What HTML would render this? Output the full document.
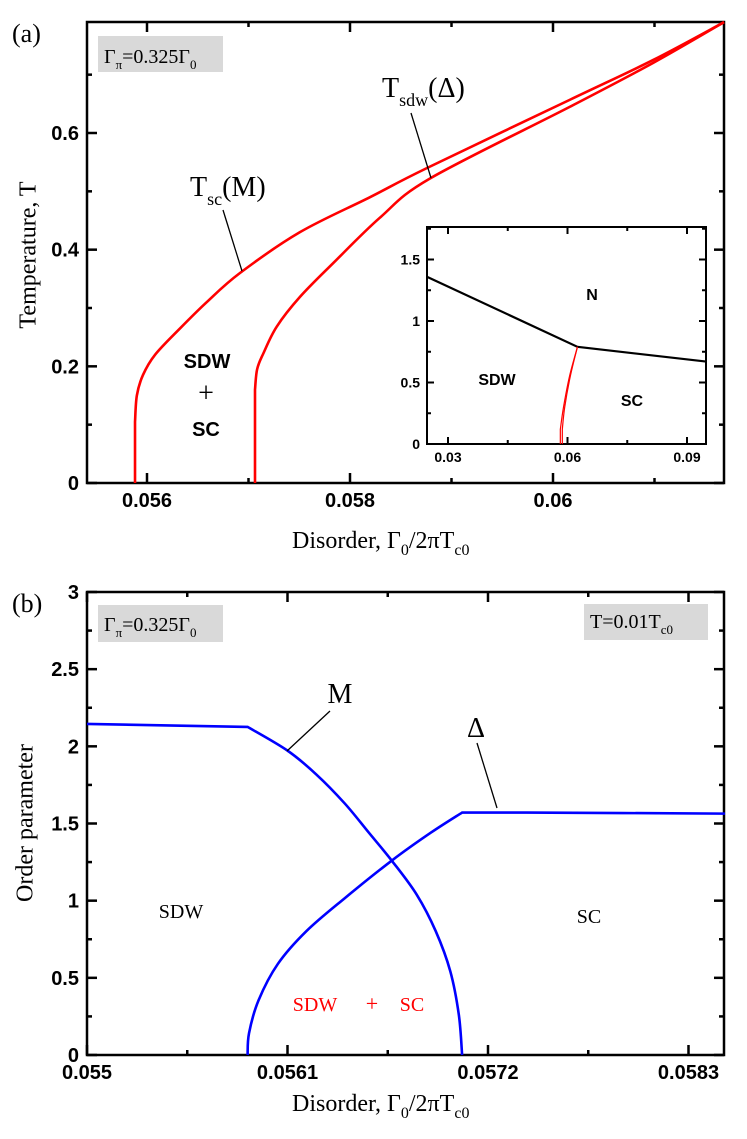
<!DOCTYPE html>
<html><head><meta charset="utf-8">
<style>
html,body{margin:0;padding:0;background:#fff;}
svg{display:block;}
.tk{font-family:"Liberation Sans",sans-serif;font-weight:bold;font-size:20px;}
.itk{font-family:"Liberation Sans",sans-serif;font-weight:bold;font-size:14px;}
.ser{font-family:"Liberation Serif",serif;}
</style></head>
<body>
<svg id="fig" width="747" height="1139" viewBox="0 0 747 1139" xmlns="http://www.w3.org/2000/svg">
<g id="pa"></g>
<g id="ins"></g>
<g id="pb"></g>
</svg>
<script>
// ---------- Panel (a) data ----------
const tscX = [0.055882,0.055882,0.055900,0.055960,0.056080,0.056325,0.056588,0.056916,0.057507,0.058197,0.058759,0.060167,0.060985,0.061685];
const tscT = [0,0.105,0.150,0.185,0.220,0.265,0.310,0.360,0.430,0.490,0.540,0.657,0.725,0.790];
const tsdwX = [0.057064,0.057064,0.057085,0.057146,0.057278,0.057507,0.057835,0.058296,0.058788,0.060167,0.060985,0.061685];
const tsdwT = [0,0.160,0.195,0.222,0.268,0.319,0.377,0.455,0.522,0.645,0.720,0.790];
const aXTicks = [0.056,0.058,0.06];
const aXTickLabels = ["0.056","0.058","0.06"];
const aYTicks = [0,0.2,0.4,0.6];
const aYTickLabels = ["0","0.2","0.4","0.6"];
// ---------- Inset data ----------
const insNX = [0.0247,0.0625,0.0948];
const insNY = [1.36,0.79,0.67];
const insR1X = [0.0625,0.0605,0.0590,0.0582,0.0582];
const insR1Y = [0.79,0.55,0.30,0.12,0];
const insR2X = [0.0625,0.0607,0.0593,0.0587,0.0587];
const insR2Y = [0.79,0.55,0.30,0.12,0];
const insXTicks = [0.03,0.06,0.09];
const insXTickLabels = ["0.03","0.06","0.09"];
const insYTicks = [0,0.5,1,1.5];
const insYTickLabels = ["0","0.5","1","1.5"];
// ---------- Panel (b) data ----------
const mX = [0.055,0.055881,0.056099,0.056257,0.056414,0.056546,0.056677,0.056809,0.056913,0.056993,0.05704,0.057058];
const mY = [2.145,2.126,1.973,1.819,1.630,1.441,1.252,1.039,0.803,0.543,0.26,0];
const dX = [0.055881,0.055889,0.055941,0.056047,0.056204,0.056414,0.056677,0.056887,0.057058,0.057413,0.0585];
const dY = [0,0.142,0.354,0.59,0.803,1.016,1.264,1.441,1.571,1.571,1.564];
const bXTicks = [0.055,0.0561,0.0572,0.0583];
const bXTickLabels = ["0.055","0.0561","0.0572","0.0583"];
const bYTicks = [0,0.5,1,1.5,2,2.5,3];
const bYTickLabels = ["0","0.5","1","1.5","2","2.5","3"];

const NS="http://www.w3.org/2000/svg";
function mk(parent,tag,attrs,text){const e=document.createElementNS(NS,tag);for(const k in attrs)e.setAttribute(k,attrs[k]);if(text!==undefined)e.textContent=text;parent.appendChild(e);return e;}
function lin(d0,d1,r0,r1){return v=>r0+(v-d0)/(d1-d0)*(r1-r0);}
function pathOf(xs,ys,sx,sy){return xs.map((x,i)=>(i?'L':'M')+sx(x).toFixed(2)+','+sy(ys[i]).toFixed(2)).join(' ');}
function smoothOf(xs,ys,sx,sy,sharp){
  sharp=sharp||[];
  const p=xs.map((x,i)=>[sx(x),sy(ys[i])]);
  let d='M'+p[0][0].toFixed(2)+','+p[0][1].toFixed(2);
  for(let i=0;i<p.length-1;i++){
    const p0=(i===0||sharp.includes(i))?p[i]:p[i-1];
    const p3=(i+2>=p.length||sharp.includes(i+1))?p[i+1]:p[i+2];
    const p1=p[i],p2=p[i+1];
    const c1=[p1[0]+(p2[0]-p0[0])/6,p1[1]+(p2[1]-p0[1])/6];
    const c2=[p2[0]-(p3[0]-p1[0])/6,p2[1]-(p3[1]-p1[1])/6];
    d+=' C'+c1[0].toFixed(2)+','+c1[1].toFixed(2)+' '+c2[0].toFixed(2)+','+c2[1].toFixed(2)+' '+p2[0].toFixed(2)+','+p2[1].toFixed(2);
  }
  return d;
}

function frame(g,L,T,R,B,xt,yt,xminor,yminor,sx,sy,maj,mnr,w){
  const f=mk(g,'rect',{x:L,y:T,width:R-L,height:B-T,fill:'none',stroke:'#000','stroke-width':w});
  
  
  xt.forEach(v=>{const x=sx(v);mk(g,'line',{x1:x,y1:B,x2:x,y2:B-maj,stroke:'#000','stroke-width':w});mk(g,'line',{x1:x,y1:T,x2:x,y2:T+maj,stroke:'#000','stroke-width':w});});
  xminor.forEach(v=>{const x=sx(v);mk(g,'line',{x1:x,y1:B,x2:x,y2:B-mnr,stroke:'#000','stroke-width':w});mk(g,'line',{x1:x,y1:T,x2:x,y2:T+mnr,stroke:'#000','stroke-width':w});});
  yt.forEach(v=>{const y=sy(v);mk(g,'line',{x1:L,y1:y,x2:L+maj,y2:y,stroke:'#000','stroke-width':w});mk(g,'line',{x1:R,y1:y,x2:R-maj,y2:y,stroke:'#000','stroke-width':w});});
  yminor.forEach(v=>{const y=sy(v);mk(g,'line',{x1:L,y1:y,x2:L+mnr,y2:y,stroke:'#000','stroke-width':w});mk(g,'line',{x1:R,y1:y,x2:R-mnr,y2:y,stroke:'#000','stroke-width':w});});
}

// ===== Panel A =====
(function(){
  const g=document.getElementById('pa');
  const L=87,R=724,T=22,B=483;
  const sx=lin(0.056,0.058,147,350), sy=lin(0,0.6,483,133);
  frame(g,L,T,R,B,aXTicks,aYTicks,[0.057,0.059,0.061],[0.1,0.3,0.5,0.7],sx,sy,10,5,2.5);
  aXTicks.forEach((v,i)=>{const t=mk(g,'text',{x:sx(v),y:507,'text-anchor':'middle',class:'tk'},aXTickLabels[i]);
    
    });
  aYTicks.forEach((v,i)=>{const t=mk(g,'text',{x:79,y:sy(v)+7,'text-anchor':'end',class:'tk'},aYTickLabels[i]);
    
    });
  const p1=mk(g,'path',{d:smoothOf(tscX,tscT,sx,sy,[1]),fill:'none',stroke:'#f00','stroke-width':2.6});
  
  
  const p2=mk(g,'path',{d:smoothOf(tsdwX,tsdwT,sx,sy,[1]),fill:'none',stroke:'#f00','stroke-width':2.6});
  
  
})();

// ===== Inset =====
(function(){
  const g=document.getElementById('ins');
  const L=427,R=706,T=227,B=444;
  const sx=lin(0.03,0.09,448,687), sy=lin(0,1,444,321);
  mk(g,'rect',{x:L,y:T,width:R-L,height:B-T,fill:'#fff'});
  frame(g,L,T,R,B,insXTicks,insYTicks,[0.045,0.075],[0.25,0.75,1.25,1.75],sx,sy,7,4,2);
  insXTicks.forEach((v,i)=>{const t=mk(g,'text',{x:sx(v),y:462,'text-anchor':'middle',class:'itk'},insXTickLabels[i]);
    
    });
  insYTicks.forEach((v,i)=>{const t=mk(g,'text',{x:420,y:sy(v)+5,'text-anchor':'end',class:'itk'},insYTickLabels[i]);
    
    });
  const n=mk(g,'path',{d:pathOf(insNX,insNY,sx,sy),fill:'none',stroke:'#000','stroke-width':2.2});
  
  
  const r1=mk(g,'path',{d:smoothOf(insR1X,insR1Y,sx,sy,[3]),fill:'none',stroke:'#f00','stroke-width':1.2});
  
  
  const r2=mk(g,'path',{d:smoothOf(insR2X,insR2Y,sx,sy,[3]),fill:'none',stroke:'#f00','stroke-width':1.2});
  
  
})();

// ===== Panel B =====
(function(){
  const g=document.getElementById('pb');
  const L=87,R=724,T=592,B=1055;
  const sx=lin(0.055,0.0561,87,287.5), sy=lin(0,3,1055,592);
  frame(g,L,T,R,B,bXTicks,bYTicks,[0.05555,0.05665,0.05775],[0.25,0.75,1.25,1.75,2.25,2.75],sx,sy,10,5,2.5);
  bXTicks.forEach((v,i)=>{const t=mk(g,'text',{x:sx(v),y:1079,'text-anchor':'middle',class:'tk'},bXTickLabels[i]);
    
    });
  bYTicks.forEach((v,i)=>{const t=mk(g,'text',{x:79,y:sy(v)+7,'text-anchor':'end',class:'tk'},bYTickLabels[i]);
    
    });
  const pm=mk(g,'path',{d:smoothOf(mX,mY,sx,sy,[1]),fill:'none',stroke:'#00f','stroke-width':2.6});
  
  
  const pd=mk(g,'path',{d:smoothOf(dX,dY,sx,sy,[8]),fill:'none',stroke:'#00f','stroke-width':2.6});
  
  
})();
</script>
<svg width="747" height="1139" viewBox="0 0 747 1139" xmlns="http://www.w3.org/2000/svg" style="position:absolute;left:0;top:0;">
  <text x="12" y="42" class="ser" font-size="26">(a)</text>
  <rect x="98" y="36" width="125" height="36" fill="#d9d9d9"/>
  <text x="104" y="63" class="ser" font-size="20">Γ<tspan font-size="13" dy="6">π</tspan><tspan dy="-6">=0.325Γ</tspan><tspan font-size="13" dy="6">0</tspan></text>
  <text x="190" y="196" class="ser" font-size="28">T<tspan font-size="18" dy="9">sc</tspan><tspan dy="-9">(M)</tspan></text>
  <line x1="223" y1="210" x2="242" y2="271" stroke="#000" stroke-width="1.3"/>
  <text x="382" y="97" class="ser" font-size="28">T<tspan font-size="18" dy="9">sdw</tspan><tspan dy="-9">(Δ)</tspan></text>
  <line x1="411" y1="113" x2="431" y2="178" stroke="#000" stroke-width="1.3"/>
  <text x="207" y="368" text-anchor="middle" font-family="Liberation Sans, sans-serif" font-weight="bold" font-size="20">SDW</text>
  <text x="206" y="402" text-anchor="middle" class="ser" font-size="28">+</text>
  <text x="206" y="436" text-anchor="middle" font-family="Liberation Sans, sans-serif" font-weight="bold" font-size="20">SC</text>
  <text x="30" y="255" transform="rotate(-90 30 255)" text-anchor="middle" dominant-baseline="middle" class="ser" font-size="24">Temperature, T</text>
  <text x="292" y="548" class="ser" font-size="24">Disorder, Γ<tspan font-size="16" dy="7">0</tspan><tspan dy="-7">/2πT</tspan><tspan font-size="16" dy="7">c0</tspan></text>
  <text x="592" y="300" text-anchor="middle" font-family="Liberation Sans, sans-serif" font-weight="bold" font-size="16">N</text>
  <text x="497" y="385" text-anchor="middle" font-family="Liberation Sans, sans-serif" font-weight="bold" font-size="16">SDW</text>
  <text x="632" y="406" text-anchor="middle" font-family="Liberation Sans, sans-serif" font-weight="bold" font-size="16">SC</text>
  <text x="12" y="612" class="ser" font-size="26">(b)</text>
  <rect x="98" y="605" width="125" height="37" fill="#d9d9d9"/>
  <text x="104" y="631" class="ser" font-size="20">Γ<tspan font-size="13" dy="6">π</tspan><tspan dy="-6">=0.325Γ</tspan><tspan font-size="13" dy="6">0</tspan></text>
  <rect x="584" y="604" width="124" height="36" fill="#d9d9d9"/>
  <text x="590" y="628" class="ser" font-size="20">T=0.01T<tspan font-size="13" dy="6">c0</tspan></text>
  <text x="340" y="703" text-anchor="middle" class="ser" font-size="28">M</text>
  <line x1="330" y1="711" x2="287" y2="751" stroke="#000" stroke-width="1.3"/>
  <text x="476" y="737" text-anchor="middle" class="ser" font-size="28">Δ</text>
  <line x1="477" y1="743" x2="497" y2="808" stroke="#000" stroke-width="1.3"/>
  <text x="181" y="918" text-anchor="middle" class="ser" font-size="20">SDW</text>
  <text x="589" y="923" text-anchor="middle" class="ser" font-size="20">SC</text>
  <text x="315" y="1011" text-anchor="middle" class="ser" font-size="20" fill="#f00">SDW</text>
  <text x="372" y="1011" text-anchor="middle" class="ser" font-size="22" fill="#f00">+</text>
  <text x="412" y="1011" text-anchor="middle" class="ser" font-size="20" fill="#f00">SC</text>
  <text x="27" y="823" transform="rotate(-90 27 823)" text-anchor="middle" dominant-baseline="middle" class="ser" font-size="24">Order parameter</text>
  <text x="292" y="1111" class="ser" font-size="24">Disorder, Γ<tspan font-size="16" dy="7">0</tspan><tspan dy="-7">/2πT</tspan><tspan font-size="16" dy="7">c0</tspan></text>
</svg>
</body></html>
